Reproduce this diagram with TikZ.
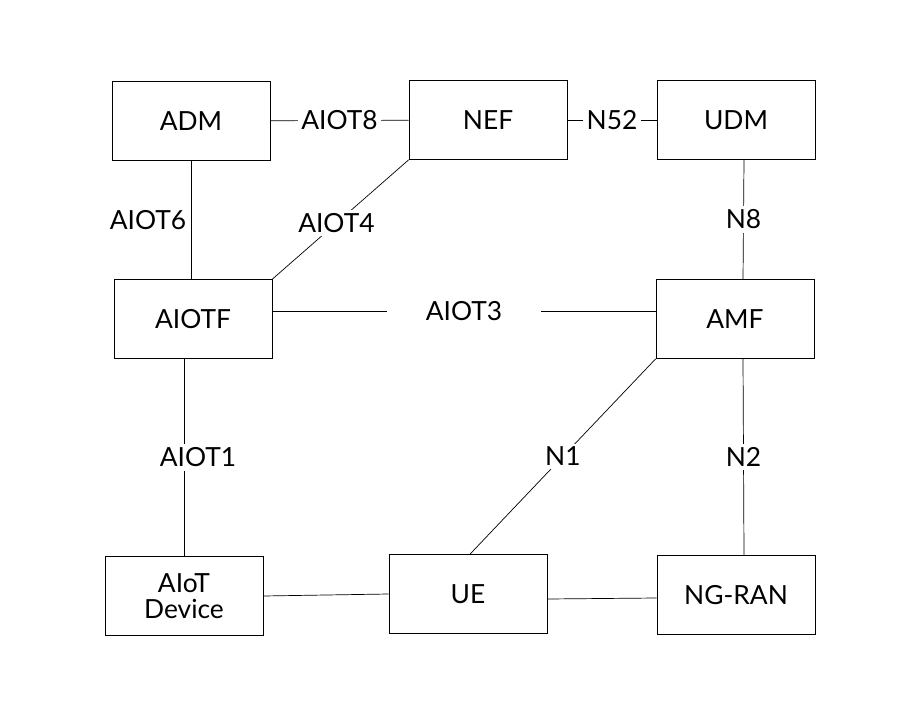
\documentclass[tikz,border=0pt]{standalone}
\usepackage{fontspec}
\setmainfont{Lato}
\tikzstyle{nf} = [draw,minimum width=3.16cm,minimum height=1.58cm,align=center,font=\fontsize{15}{18}\selectfont]
\tikzstyle{lbl} = [fill=white,font=\fontsize{15}{18}\selectfont,inner sep=2pt]

\begin{document}
\begin{tikzpicture}[x=0.02cm,y=-0.02cm]
        \useasboundingbox (0,0) rectangle (915,702);
        \node[nf] at (191,121) (adm) {ADM};
        \node[nf] at (488,120) (nef) {NEF};
        \node[nf] at (736,120) (udm) {UDM};
        \node[nf] at (193,319) (aiotf) {AIOTF};
        \node[nf] at (735,319) (amf) {AMF};
        \node[nf] at (184,596) (dev) {AIoT\\[-3pt]Device};
        \node[nf] at (468,594) (ue) {UE};
        \node[nf] at (736,595) (ran) {NG-RAN};

        \draw (adm) -- (nef) node[midway,lbl]{AIOT8};
        \draw (nef) -- (udm) node[midway,lbl]{N52};
        \draw (adm.south) -- (aiotf.north-|adm.south);
        \node[lbl] at (148,220) (l6) {AIOT6};
        \draw (nef.south west) -- (aiotf.north east) node[pos=0.53,lbl]{AIOT4};
        \draw ([yshift=0.16cm]aiotf.east) -- ([yshift=0.16cm]amf.west) node[midway,lbl,inner xsep=22pt]{AIOT3};
        \draw ([xshift=0.16cm]udm.south) -- ([xshift=0.16cm]amf.north) node[midway,lbl]{N8};
        \draw (dev.north) -- (dev.north|-aiotf.south) node[pos=0.5,lbl,xshift=0.28cm]{AIOT1};
        \draw (amf.south west) -- ([xshift=0.04cm]ue.north) node[midway,lbl]{N1};
        \draw ([xshift=0.16cm]amf.south) -- ([xshift=0.16cm]ran.north) node[midway,lbl]{N2};
        \draw (dev.east) -- (ue.west);
        \draw ([yshift=-0.1cm]ue.east) -- ([yshift=-0.06cm]ran.west);
    \end{tikzpicture}
\end{document}
